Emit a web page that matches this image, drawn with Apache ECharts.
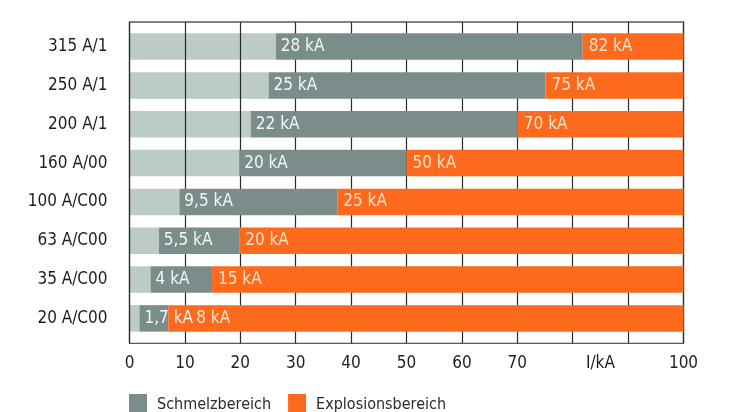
<!DOCTYPE html>
<html>
<head>
<meta charset="utf-8">
<script src="https://cdn.jsdelivr.net/npm/echarts@6/dist/echarts.min.js"></script>
<style>html,body{margin:0;padding:0;background:#fff;}#c{width:734px;height:412px;}</style>
</head>
<body>
<div id="c"></div>
<script>
const categories = ['315 A/1','250 A/1','200 A/1','160 A/00','100 A/C00','63 A/C00','35 A/C00','20 A/C00'];
const schmelzStart = [26.4, 25.1, 21.9, 19.8, 9.0, 5.3, 3.8, 1.8];
const explosionStart = [81.8, 75.1, 70.1, 50.0, 37.5, 19.8, 14.9, 7.0];
const schmelzLabels = ['28 kA','25 kA','22 kA','20 kA','9,5 kA','5,5 kA','4 kA','1,7 kA'];
const explosionLabels = ['82 kA','75 kA','70 kA','50 kA','25 kA','20 kA','15 kA','8 kA'];
const axisMax = 100;
const xTickLabels = [0,10,20,30,40,50,60,70,85,100];
const unitTickValue = 85;
const unitLabel = 'I/kA';

const FONT = "'Liberation Sans Narrow', 'DejaVu Sans Condensed', 'Arial Narrow', sans-serif";
const chart = echarts.init(document.getElementById('c'), null, {renderer:'canvas'});

const darkData = categories.map((c,i)=>({value: +(explosionStart[i]-schmelzStart[i]).toFixed(2)}));
const orangeData = categories.map((c,i)=>{
  const d = {value: +(axisMax-explosionStart[i]).toFixed(2)};
  if (i === categories.length-1) d.label = {distance: 28};
  return d;
});

chart.setOption({
  animation:false,
  grid:[
    {left:129.5, right:50.5, top:22, bottom:68.7, show:true, borderColor:'#5a5a5a', borderWidth:1.3, backgroundColor:'transparent'},
    {left:129.5, right:50.5, top:27.2, bottom:74.2}
  ],
  xAxis:[
    {gridIndex:0, type:'value', min:0, max:axisMax, interval:10,
     axisLine:{show:false}, axisTick:{show:false},
     splitLine:{show:true, lineStyle:{color:'#2a2a2a', width:1.2}},
     axisLabel:{customValues:xTickLabels, margin:12, color:'#1e1e1e', fontSize:17, fontFamily:FONT,
       formatter:v=> v===unitTickValue ? unitLabel : String(v)}},
    {gridIndex:1, type:'value', min:0, max:axisMax, show:false}
  ],
  yAxis:[
    {gridIndex:0, type:'value', show:false},
    {gridIndex:1, type:'category', data:categories, inverse:true,
     axisLine:{show:false}, axisTick:{show:false}, splitLine:{show:false},
     axisLabel:{margin:22, color:'#1e1e1e', fontSize:17, fontFamily:FONT}}
  ],
  legend:{
    data:['Schmelzbereich','Explosionsbereich'],
    left:124, top:389, icon:'rect', itemWidth:18, itemHeight:21, itemGap:17,
    textStyle:{fontSize:16, color:'#2a2a2a', fontFamily:FONT, padding:[0,0,0,5]}
  },
  series:[
    {name:'base', type:'bar', stack:'s', xAxisIndex:1, yAxisIndex:1, z:-1, barWidth:26.5,
     data:schmelzStart, itemStyle:{color:'#bacbc8'}, silent:true},
    {name:'Schmelzbereich', type:'bar', stack:'s', xAxisIndex:1, yAxisIndex:1, barWidth:26.5,
     data:darkData, itemStyle:{color:'#7b8d8b'},
     label:{show:true, position:'insideLeft', distance:5, color:'#f3f6f6', fontSize:17, fontFamily:FONT,
       formatter:p=>schmelzLabels[p.dataIndex]}},
    {name:'Explosionsbereich', type:'bar', stack:'s', xAxisIndex:1, yAxisIndex:1, barWidth:26.5,
     data:orangeData, itemStyle:{color:'#fd6a1e'},
     label:{show:true, position:'insideLeft', distance:6, color:'#ffe4c8', fontSize:17, fontFamily:FONT,
       formatter:p=>explosionLabels[p.dataIndex]}}
  ]
});
</script>
</body>
</html>
